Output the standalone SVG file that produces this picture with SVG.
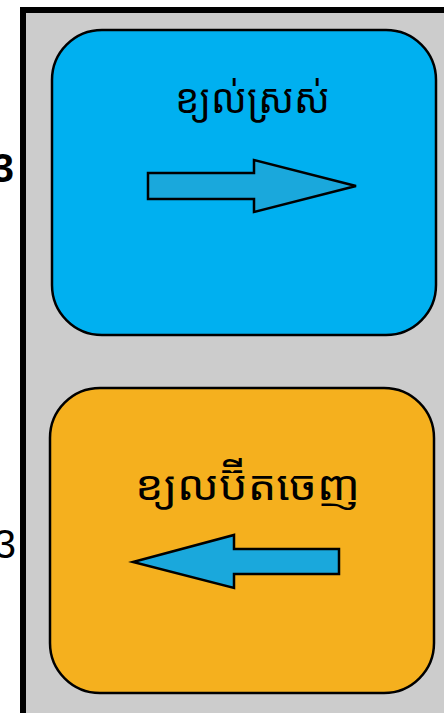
<svg xmlns="http://www.w3.org/2000/svg" width="444" height="713" viewBox="0 0 444 713">
<style>
.box{stroke:#000;stroke-width:2.5}
.arr{fill:#1aa8dc;stroke:#000;stroke-width:2.5;stroke-linejoin:miter}
.km{font-family:"Noto Sans Khmer","Khmer OS","Noto Serif Khmer","DejaVu Sans",sans-serif;font-size:40px;fill:#000}
.cut{font-family:"Liberation Sans",Arial,sans-serif;font-size:40px;fill:#000;text-anchor:end}
</style>
<rect x="0" y="0" width="444" height="713" fill="#fff"/>
<g id="panel">
<rect x="23" y="10" width="440" height="720" fill="#cccccc" stroke="#000" stroke-width="6"/>
</g>
<text class="cut" x="14" y="182" font-weight="bold">3</text>
<text class="cut" x="16" y="558">3</text>
<g id="node-fresh">
<rect class="box" x="52" y="30" width="384" height="305" rx="50" fill="#00b0f0"/>
<text class="km" x="175" y="113" textLength="155" lengthAdjust="spacingAndGlyphs">ខ្យល់ស្រស់</text>
<polygon class="arr" points="148,173 254,173 254,160 356,186 254,212 254,199 148,199"/>
</g>
<g id="node-exhaust">
<rect class="box" x="50" y="388" width="384" height="305" rx="50" fill="#f5b01e"/>
<text class="km" x="135" y="500" textLength="225" lengthAdjust="spacingAndGlyphs">ខ្យលប៊ីតចេញ</text>
<polygon class="arr" points="339,549 234,549 234,535 133,562 234,588 234,574 339,574"/>
</g>
<g id="connectors"></g>
</svg>
